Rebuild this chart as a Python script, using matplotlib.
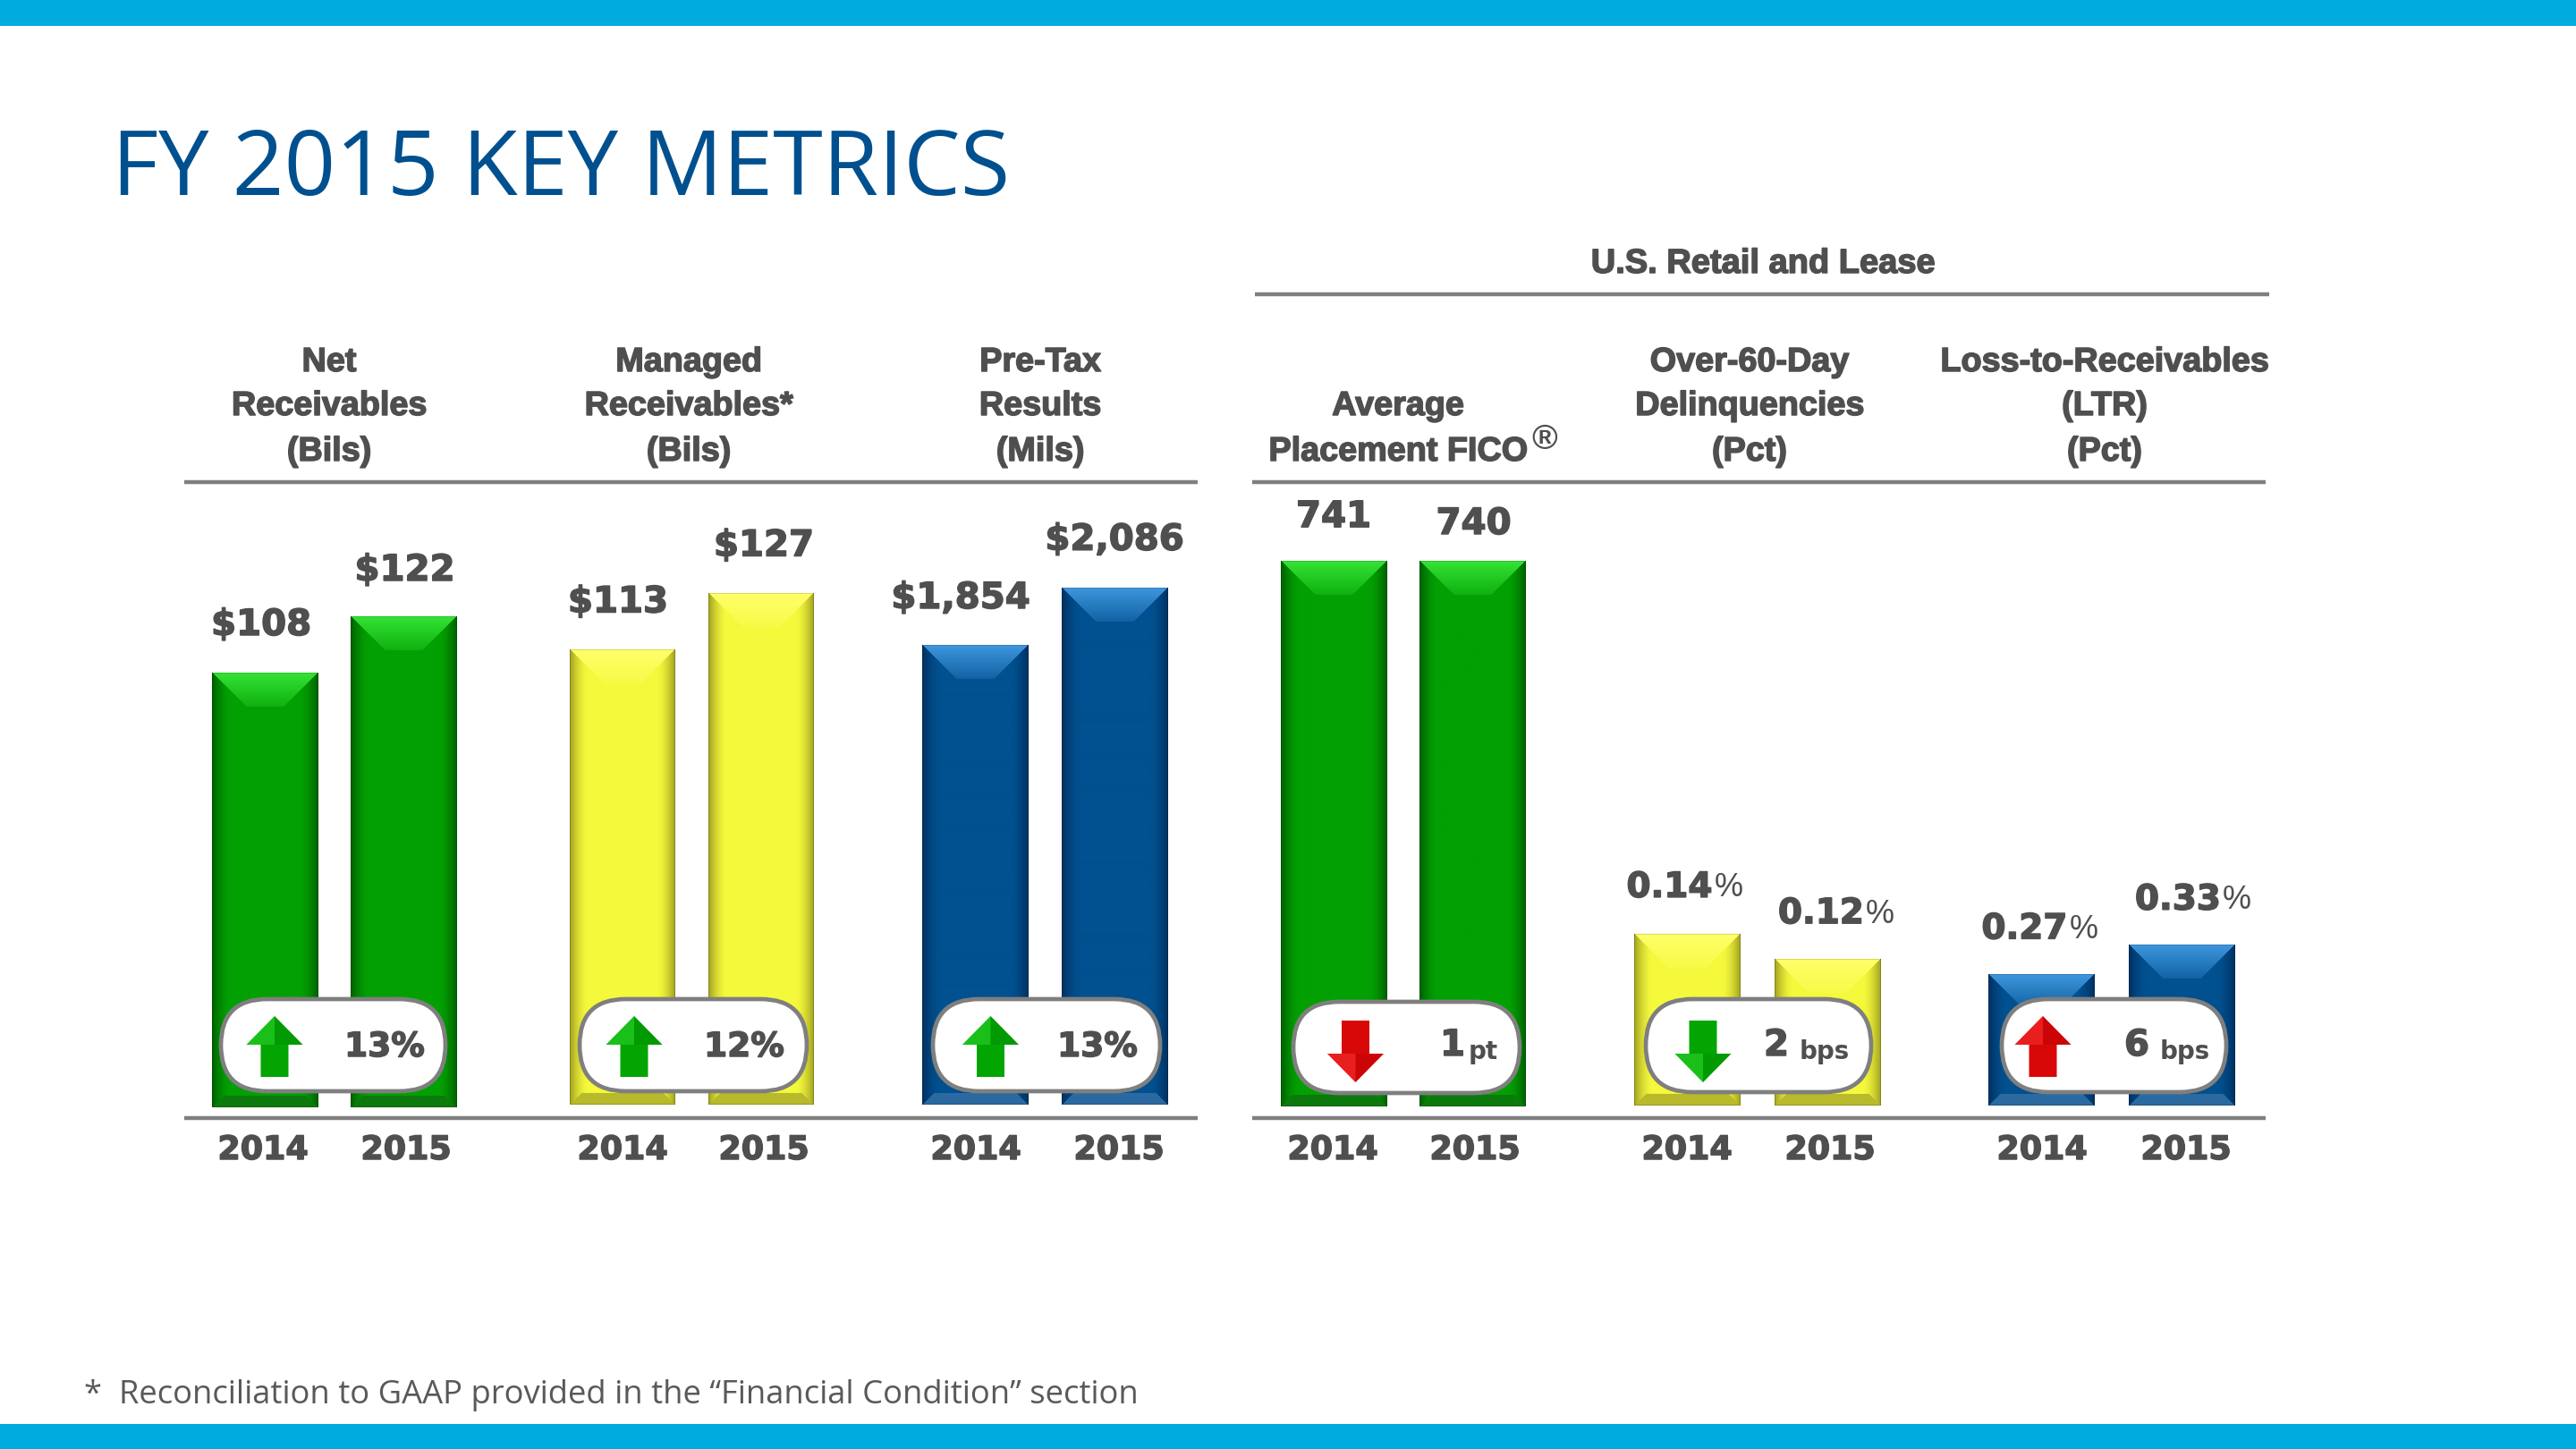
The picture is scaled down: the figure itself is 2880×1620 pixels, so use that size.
import numpy as np
import matplotlib as mp
mp.use("Agg")
import matplotlib.pyplot as plot
import matplotlib.patheffects as pe
from matplotlib.patches import FancyBboxPatch, Polygon, Rectangle

# figure is 2880x1620 at dpi 100, so one display unit is one pixel
W, H = 2880, 1620

# data
years = ["2014", "2015"]
net_receivables = [108, 122]
managed_receivables = [113, 127]
pretax_results = [1854, 2086]
fico = [741, 740]
delinquencies = [0.14, 0.12]
ltr = [0.27, 0.33]

net_labels = ["$108", "$122"]
managed_labels = ["$113", "$127"]
pretax_labels = ["$1,854", "$2,086"]
fico_labels = ["741", "740"]
delinq_labels = ["0.14", "0.12"]
ltr_labels = ["0.27", "0.33"]

headers = [["Net", "Receivables", "(Bils)"],
           ["Managed", "Receivables*", "(Bils)"],
           ["Pre-Tax", "Results", "(Mils)"],
           ["", "Average", "Placement FICO"],
           ["Over-60-Day", "Delinquencies", "(Pct)"],
           ["Loss-to-Receivables", "(LTR)", "(Pct)"]]

changes = ["13", "12", "13", "1", "2", "6"]
change_units = ["%", "%", "%", "pt", "bps", "bps"]
change_dirs = [1, 1, 1, -1, -1, 1]

# layout, in reference pixels
grey = "#4f4f4f"
rule_grey = "#7f7f7f"
GREEN = dict(base="#03a003", top="#35e335", edge="#005f00", bottom="#0c7a0c")
YELLOW = dict(base="#f5f93c", top="#ffff6a", edge="#a0a020", bottom="#b9b92c")
BLUE = dict(base="#01508f", top="#3f97de", edge="#003060", bottom="#2a6aa0")
RED_ARROW = ("#d80808", "#ff3b3b", "#a80000")
GREEN_ARROW = ("#03a503", "#38e038", "#007a00")

groups = [
    dict(vals=net_receivables, labels=net_labels, c=(296, 451.5), base=1238, scale=4.5, style=GREEN,
         dx=(-4, 1), dy=(57, 55), pill=(247, 498, 1117, 1220), arrow=307, txt=430),
    dict(vals=managed_receivables, labels=managed_labels, c=(696, 851), base=1235, scale=4.5, style=YELLOW,
         dx=(-5, 3), dy=(57, 57), pill=(648, 902, 1117, 1220), arrow=709, txt=832),
    dict(vals=pretax_results, labels=pretax_labels, c=(1090, 1246), base=1235, scale=0.2767, style=BLUE,
         dx=(-16, 0), dy=(57, 58), pill=(1043, 1297, 1117, 1220), arrow=1107.5, txt=1227),
    dict(vals=fico, labels=fico_labels, c=(1491, 1646.5), base=1237, scale=0.823, style=GREEN,
         dx=(0, 1), dy=(53, 46), pill=(1446, 1699, 1120, 1222), arrow=1515.5, txt=1658),
    dict(vals=delinquencies, labels=delinq_labels, c=(1886.5, 2043), base=1236, scale=1365, style=YELLOW,
         dx=(-3, 10), dy=(57, 55), pill=(1840, 2092, 1117, 1221), arrow=1904, txt=2040),
    dict(vals=ltr, labels=ltr_labels, c=(2282.5, 2439), base=1236, scale=543, style=BLUE,
         dx=(-2, 13), dy=(55, 55), pill=(2238, 2489, 1117, 1221), arrow=2284, txt=2443),
]
header_x = [368, 770, 1163, 1563, 1956, 2353]
header_y = [405, 454, 505]
year_x = [(294, 454), (696, 854), (1091, 1251), (1490, 1649), (1886, 2046), (2283, 2444)]
bar_frac = 0.76
AXES_TOP = 480

# makes the bold faces as heavy as the slide's
heavy = [pe.withStroke(linewidth=1.1, foreground=grey)]


def to_rgb(c):
    return np.array(mp.colors.to_rgb(c))


def bevel_image(w, h, s):
    # shaded face of one bar: top, side and bottom bevels over the base colour
    w, h = int(round(w)), int(round(h))
    xs, ys = np.meshgrid(np.arange(w) + 0.5, np.arange(h) + 0.5)
    dl, dr, dt, db = xs, w - xs, ys, h - ys
    base, top, edge, bottom = [to_rgb(s[k]) for k in ("base", "top", "edge", "bottom")]
    img = np.ones((h, w, 3)) * base

    side = np.minimum(dl, dr)
    t = np.clip(1 - side / 20.0, 0, 1)[..., None] ** 1.6
    img = img * (1 - t) + edge * t

    bev = 38
    mask = (dt < bev) & (dt < dl) & (dt < dr)
    t = np.clip(dt / bev, 0, 1)[..., None]
    tc = top * (1 - t * 0.75) + base * (t * 0.75)
    img = np.where(mask[..., None], tc, img)

    mask = (db < 13) & (db < dl) & (db < dr)
    img = np.where(mask[..., None], bottom * np.ones_like(img), img)

    # thin dark outline round the face
    line = (dl < 1.5) | (dr < 1.5) | (db < 1.5)
    img[line] = img[line] * 0.82
    img[dt < 1.5] = img[dt < 1.5] * 0.85
    return img


def draw_arrow(ax, cx, direction, colors):
    # block arrow with a soft lit facet on the head
    fill, light, dark = colors
    hw, sw = 31.5, 15.5
    if direction > 0:
        tip, wing, end = 1136, 1168, 1204
    else:
        tip, wing, end = 1210, 1178, 1141
    pts = [(cx, tip), (cx + hw, wing), (cx + sw, wing), (cx + sw, end),
           (cx - sw, end), (cx - sw, wing), (cx - hw, wing)]
    ax.add_patch(Polygon(pts, closed=True, fc=fill, ec="none", zorder=6))
    ax.add_patch(Polygon([(cx, tip), (cx - hw, wing), (cx, wing)],
                         closed=True, fc=light, ec="none", alpha=0.45, zorder=7))
    ax.add_patch(Polygon([(cx, tip), (cx + hw, wing), (cx, wing)],
                         closed=True, fc=dark, ec="none", alpha=0.25, zorder=7))


fig = plot.figure(figsize=(W / 100, H / 100), dpi=100, facecolor="white")

# one overlay in pixel coordinates for the slide furniture
over = fig.add_axes([0, 0, 1, 1], zorder=10)
over.set_xlim(0, W)
over.set_ylim(H, 0)
over.axis("off")
over.patch.set_alpha(0)

over.add_patch(Rectangle((0, 0), W, 29, fc="#00abe0", ec="none"))
over.add_patch(Rectangle((0, 1592), W, 28, fc="#00abe0", ec="none"))

over.text(125, 192, "FY 2015 KEY METRICS", fontsize=72.6, color="#00508f",
          family="Open Sans", va="center", ha="left")
over.text(94, 1560, "*  Reconciliation to GAAP provided in the \u201cFinancial Condition\u201d section",
          fontsize=26.2, color="#595959", family="Open Sans", va="center", ha="left")

for x0, x1, y in [(206, 1339, 539), (1400, 2533, 539), (206, 1339, 1250), (1400, 2533, 1250), (1403, 2537, 329)]:
    over.plot([x0, x1], [y, y], color=rule_grey, lw=3.2, solid_capstyle="butt")

over.text(1971, 295, "U.S. Retail and Lease", fontsize=27.4, fontweight="bold", color=grey,
          family="Liberation Sans", ha="center", va="center", path_effects=heavy)

for x, lines in zip(header_x, headers):
    for y, line in zip(header_y, lines):
        over.text(x, y, line, fontsize=27.2, fontweight="bold", color=grey,
                  family="Liberation Sans", ha="center", va="center", path_effects=heavy)
over.text(1727, 492, "\u00ae", fontsize=28, fontweight="bold", color=grey, family="Liberation Sans",
          ha="center", va="center")

for g, xs in zip(groups, year_x):
    for x, year in zip(xs, years):
        over.text(x, 1286, year, fontsize=26.2, fontweight="bold", color=grey, ha="center", va="center",
                  path_effects=heavy)

# one small axes per metric, each with its own value scale
for g, d, unit, change in zip(groups, change_dirs, change_units, changes):
    c0, c1 = g["c"]
    step = c1 - c0
    left = c0 - step / 2
    top = AXES_TOP
    ax = fig.add_axes([left / W, 1 - g["base"] / H, 2 * step / W, (g["base"] - top) / H], zorder=2)
    ax.set_xlim(-0.5, 1.5)
    ax.set_ylim(0, (g["base"] - top) / g["scale"])
    ax.axis("off")
    bars = ax.bar(range(2), g["vals"], width=bar_frac, color=g["style"]["base"], zorder=2)
    for i, b in enumerate(bars):
        x0 = b.get_x()
        x1 = x0 + b.get_width()
        v = b.get_height()
        (px0, py0), (px1, py1) = ax.transData.transform([(x0, 0), (x1, v)])
        ax.imshow(bevel_image(px1 - px0, py1 - py0, g["style"]), extent=(x0, x1, 0, v),
                  aspect="auto", zorder=3, interpolation="bilinear")
        label = g["labels"][i]
        pct = "%" if label.startswith("0.") else ""
        ax.annotate(label, xy=(i, v), xytext=(g["dx"][i] - (17 if pct else 0), g["dy"][i] - 4),
                    textcoords="offset pixels", ha="center", va="center", fontsize=29 if not pct else 28,
                    fontweight="bold", color=grey, annotation_clip=False, path_effects=heavy)
        if pct:
            ax.annotate(pct, xy=(i, v), xytext=(g["dx"][i] + 49, g["dy"][i] - 5),
                        textcoords="offset pixels", ha="center", va="center", fontsize=26,
                        color=grey, family="Liberation Sans", annotation_clip=False)
    ax.set_xlim(-0.5, 1.5)
    ax.set_ylim(0, (g["base"] - top) / g["scale"])

    # change pill
    px0, px1, py0, py1 = g["pill"]
    r = (py1 - py0) / 2
    over.add_patch(FancyBboxPatch((px0, py0), px1 - px0, py1 - py0,
                                  boxstyle="round,pad=0,rounding_size=%f" % r,
                                  fc="white", ec=rule_grey, lw=3.4, zorder=5,
                                  mutation_aspect=1))
    col = RED_ARROW if (g["style"] is GREEN and d < 0) or (g["style"] is BLUE and g["vals"] is ltr) else GREEN_ARROW
    draw_arrow(over, g["arrow"], d, col)
    if unit == "%":
        over.text(g["txt"], 1171, change + unit, fontsize=27, fontweight="bold", color=grey,
                  ha="center", va="center", zorder=8, path_effects=heavy)
    else:
        over.text(g["txt"] - (34 if unit == "pt" else 54), 1169, change, fontsize=29, fontweight="bold", color=grey,
                  ha="center", va="center", zorder=8, path_effects=heavy)
        over.text(g["txt"], 1176, unit, fontsize=20, fontweight="bold", color=grey,
                  ha="center", va="center", zorder=8)

fig.savefig("out.png", dpi=100)
